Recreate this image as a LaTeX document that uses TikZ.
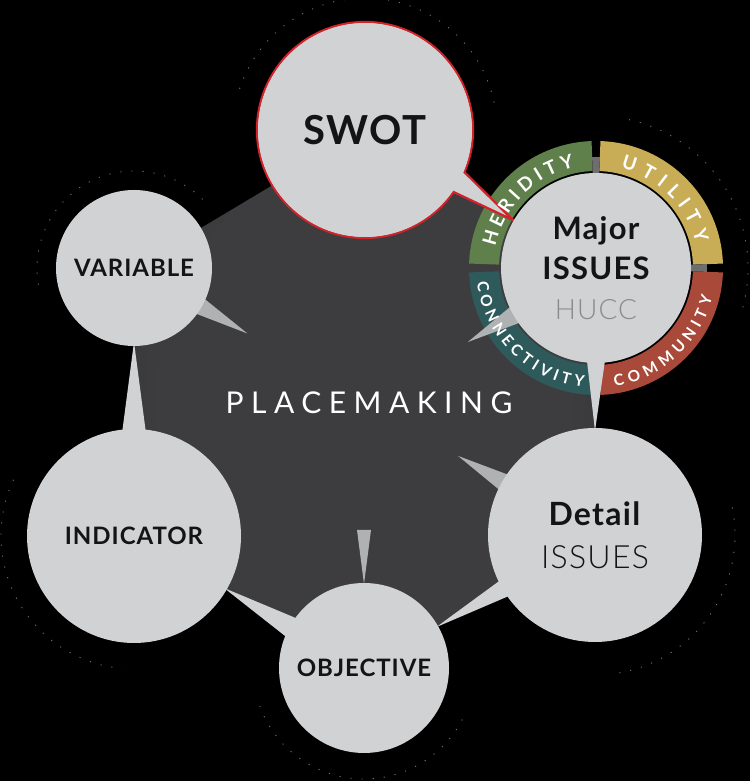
\documentclass[tikz,border=0pt]{standalone}
\usepackage{fontspec}
\setmainfont{Lato}[LetterSpace=4]
\IfFontExistsTF{Lato Light}
  {\newfontfamily\pmlight{Lato Light}[LetterSpace=4]}
  {\newfontfamily\pmlight{Lato}[LetterSpace=4]}
\newfontfamily\pmwide{Lato}[LetterSpace=25]
\newcommand\pmringtop{\bfseries\fontsize{19}{19}\selectfont}
\newcommand\pmringlow{\bfseries\fontsize{15.5}{15.5}\selectfont}
\usepackage{tikz}
\usetikzlibrary{decorations.text}
\definecolor{PMBubble}{RGB}{209, 210, 212}
\definecolor{PMWedge}{RGB}{176, 177, 179}
\definecolor{PMHubIn}{RGB}{61, 61, 63}
\definecolor{PMHubOut}{RGB}{38, 38, 40}
\definecolor{PMRed}{RGB}{210, 35, 42}
\definecolor{PMGreen}{RGB}{95, 127, 75}
\definecolor{PMYellow}{RGB}{200, 173, 86}
\definecolor{PMBrick}{RGB}{168, 73, 58}
\definecolor{PMTeal}{RGB}{46, 90, 91}
\definecolor{PMGap}{RGB}{109, 110, 112}
\definecolor{PMInk}{RGB}{20, 20, 20}
\definecolor{PMHucc}{RGB}{138, 139, 141}
\pgfdeclareradialshading{hubshade}{\pgfpoint{0bp}{0bp}}{color(0bp)=(PMHubIn); color(22bp)=(PMHubIn); color(50bp)=(PMHubOut)}
\pgfdeclarelayer{bg}
\pgfdeclarelayer{ring}
\pgfdeclarelayer{tails}
\pgfdeclarelayer{ringtext}
\pgfsetlayers{bg,ring,tails,ringtext,main}

\begin{document}
\begin{tikzpicture}[
    x=1pt, y=1pt,
    bubble/.style={
        circle, fill=PMBubble, inner sep=0pt, outer sep=0pt,
        text=PMInk, align=center
    },
    tail/.style={fill=PMBubble},
    wedge/.style={fill=PMWedge},
    halo/.style={white, opacity=0.45, line width=0.9pt, dash pattern=on 1.1pt off 10pt},
    ringlabel/.style={decorate, decoration={text along path,
        text align=fit to path, text color=white, text={#1}}}
]
\useasboundingbox (0,0) rectangle (750,781);

\node[bubble, minimum size=156pt, font=\bfseries\fontsize{24}{24}\selectfont]
    (variable) at (134,513) {VARIABLE};
\node[bubble, minimum size=214pt, font=\bfseries\fontsize{40}{40}\selectfont]
    (swot) at (365,651) {SWOT};
\node[bubble, minimum size=190pt, font=\bfseries\fontsize{31}{40}\selectfont]
    (major) at (596,513)
    {Major\\ISSUES\\{\pmlight\mdseries\color{PMHucc}\fontsize{28}{40}\selectfont HUCC}};
\node[bubble, minimum size=214pt, font=\fontsize{32}{43}\selectfont]
    (detail) at (595,246) {\textbf{Detail}\\{\pmlight ISSUES}};
\node[bubble, minimum size=170pt, font=\bfseries\fontsize{24}{24}\selectfont]
    (objective) at (364,113) {OBJECTIVE};
\node[bubble, minimum size=214pt, font=\bfseries\fontsize{24}{24}\selectfont]
    (indicator) at (134,245) {INDICATOR};
\node[text=white, font=\pmwide\fontsize{30}{30}\selectfont]
    (placemaking) at (369,378) {PLACEMAKING};

\begin{pgfonlayer}{bg}
\fill[black] (0,0) rectangle (750,781);
\foreach \nm/\r/\a/\b in {swot/132/12/165, variable/97/45/190, indicator/133/155/265,
                          objective/111/200/335, detail/140/280/375, major/152/345/440}
    \draw[halo] ([shift={(\a:\r)}]\nm.center) arc[start angle=\a, end angle=\b, radius=\r];
\shade[shading=hubshade] (variable.center) -- (swot.center) -- (major.center)
    -- (detail.center) -- (objective.center) -- (indicator.center) -- cycle;
\end{pgfonlayer}

\begin{pgfonlayer}{ring}
\foreach \a/\b/\c in {92/178/PMGreen, 2/88/PMYellow, -88/-2/PMBrick, 182/268/PMTeal}
    \fill[\c] ([shift={(\a:127)}]major.center) arc[start angle=\a, end angle=\b, radius=127]
        -- ([shift={(\b:97)}]major.center) arc[start angle=\b, end angle=\a, radius=97] -- cycle;
\foreach \a in {0,90}
    \fill[PMGap] ([shift={(\a-2:94)}]major.center) arc[start angle=\a-2, end angle=\a+2, radius=94]
        -- ([shift={(\a+2:111)}]major.center) arc[start angle=\a+2, end angle=\a-2, radius=111] -- cycle;
\end{pgfonlayer}

\begin{pgfonlayer}{tails}
\fill[tail] ([shift={(-90:74)}]variable.center) -- ([shift={(83:101)}]indicator.center)
    -- ([shift={(97:101)}]indicator.center) -- cycle;
\fill[tail] ([shift={(-30:104)}]indicator.center) -- ([shift={(143:80)}]objective.center)
    -- ([shift={(159:80)}]objective.center) -- cycle;
\fill[tail] ([shift={(29.5:83)}]objective.center) -- ([shift={(205:100)}]detail.center)
    -- ([shift={(216:100)}]detail.center) -- cycle;
\fill[tail] ([shift={(264:90)}]major.center) -- ([shift={(90:104)}]detail.center)
    -- ([shift={(276:90)}]major.center) -- cycle;
% callout of SWOT
\filldraw[fill=PMBubble, draw=PMRed, line width=2.2pt]
    ([shift={(-23:108)}]swot.center) arc[start angle=-23, end angle=325, radius=108]
    -- ([shift={(150:96)}]major.center) -- cycle;
\fill[wedge] ([shift={(-37:74)}]variable.center) -- ([shift={(-30:131)}]variable.center)
    -- ([shift={(-23:74)}]variable.center) -- cycle;
\fill[wedge] ([shift={(204:92)}]major.center) -- ([shift={(210:148)}]major.center)
    -- ([shift={(216:92)}]major.center) -- cycle;
\fill[wedge] ([shift={(145:104)}]detail.center) -- ([shift={(150:158)}]detail.center)
    -- ([shift={(155:104)}]detail.center) -- cycle;
\fill[wedge] ([shift={(-7,138)}]objective.center) -- ([shift={(7,138)}]objective.center)
    -- ([shift={(0,84)}]objective.center) -- cycle;
\end{pgfonlayer}

\begin{pgfonlayer}{ringtext}
\path[ringlabel={|\pmringtop|HERIDITY}]
    ([shift={(168:103)}]major.center) arc[start angle=168, end angle=102, radius=103];
\path[ringlabel={|\pmringtop|UTILITY}]
    ([shift={(76:103)}]major.center) arc[start angle=76, end angle=14, radius=103];
\path[ringlabel={|\pmringlow|CONNECTIVITY}]
    ([shift={(187:120)}]major.center) arc[start angle=187, end angle=264, radius=120];
\path[ringlabel={|\pmringlow|COMMUNITY}]
    ([shift={(279:120)}]major.center) arc[start angle=279, end angle=346, radius=120];
\end{pgfonlayer}

\end{tikzpicture}
\end{document}
